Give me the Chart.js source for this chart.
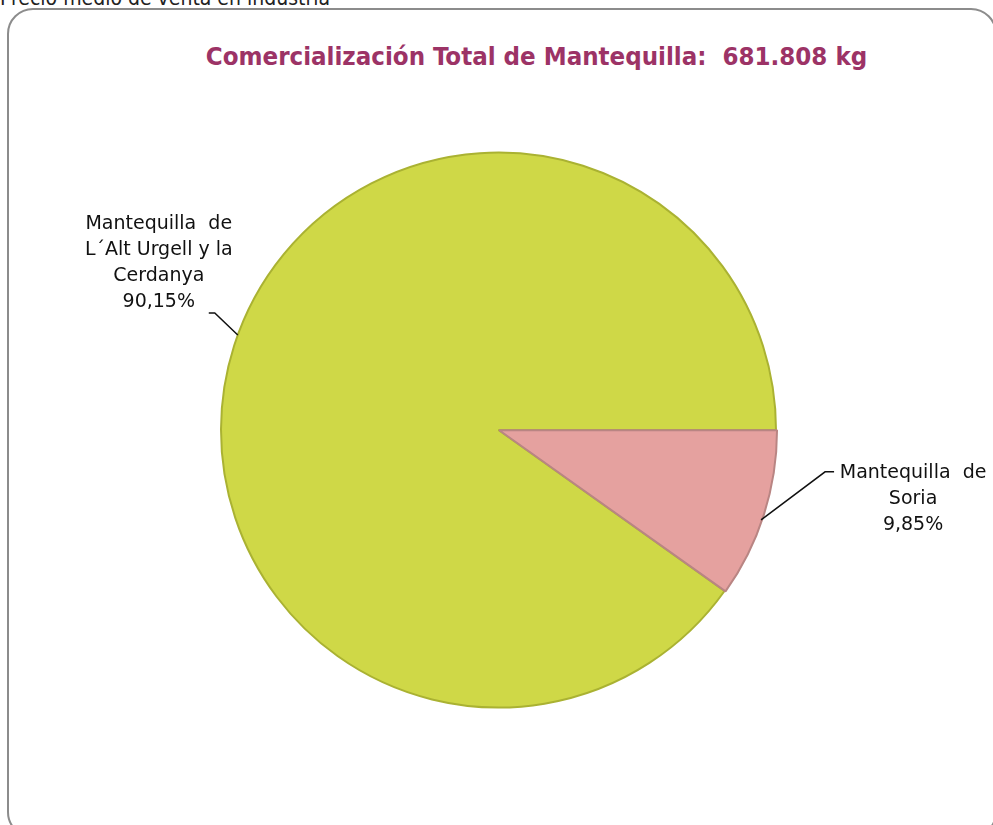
<!DOCTYPE html>
<html>
<head>
<meta charset="utf-8">
<script src="https://cdn.jsdelivr.net/npm/chart.js@4.4.1/dist/chart.umd.min.js"></script>
<style>
	html, body { margin: 0; padding: 0; background: #fff; overflow: hidden; }
	body { width: 993px; height: 825px; position: relative; font-family: "DejaVu Sans Condensed", "DejaVu Sans", sans-serif; }
	.caption { position: absolute; left: 0; top: -14px; font-size: 21px; color: #222; white-space: nowrap; }
	.frame { position: absolute; left: 7px; top: 8px; width: 990px; height: 830px; border: 2px solid #8c8c8c; border-radius: 26px; box-sizing: border-box; }
	.title { position: absolute; left: 0; top: 41px; width: 1073px; text-align: center; font-weight: bold; font-size: 25.6px; color: #9c3366; white-space: nowrap; }
	#wrap { position: absolute; left: 0; top: 0; width: 993px; height: 825px; }
</style>
</head>
<body>
<div class="caption">Precio medio de venta en industria</div>
<div class="frame"></div>
<div class="title">Comercialización Total de Mantequilla:&nbsp; 681.808 kg</div>
<div id="wrap"><canvas id="chart"></canvas></div>
<script>
// data
const categories = ["Mantequilla de L´Alt Urgell y la Cerdanya", "Mantequilla de Soria"];
const shares = [90.15, 9.85];
const labelLines = [
	["Mantequilla  de", "L´Alt Urgell y la", "Cerdanya"],
	["Mantequilla  de", "Soria"]
];
const sliceColors = ["#cfd847", "#e5a19f"];
const sliceBorders = ["#aab232", "#b98583"];

// start of the first slice so the small one sits just below 3 o'clock
const total = shares.reduce((a, b) => a + b, 0);
const startRotation = 90 + 360 * shares[1] / total;

const fmt = v => v.toFixed(2).replace(".", ",") + "%";

// outside labels with leader lines
const outLabels = {
	id: "outLabels",
	afterDatasetsDraw(chart) {
		const ctx = chart.ctx;
		const meta = chart.getDatasetMeta(0);
		ctx.save();
		ctx.font = "19px 'DejaVu Sans', sans-serif";
		ctx.fillStyle = "#111";
		ctx.strokeStyle = "#111";
		ctx.lineWidth = 1.5;
		ctx.textAlign = "center";
		ctx.textBaseline = "middle";
		meta.data.forEach((arc, i) => {
			const p = arc.getProps(["x", "y", "startAngle", "endAngle", "outerRadius"], true);
			const mid = (p.startAngle + p.endAngle) / 2;
			const lines = labelLines[i].concat([fmt(shares[i])]);
			const lh = 26;
			if (Math.cos(mid) < 0) {
				const a = mid + 0.04;
				const px = p.x + Math.cos(a) * p.outerRadius;
				const py = p.y + Math.sin(a) * p.outerRadius;
				const ex = px - 23, ey = py - 22, hx = ex - 6;
				ctx.beginPath();
				ctx.moveTo(px, py); ctx.lineTo(ex, ey); ctx.lineTo(hx, ey);
				ctx.stroke();
				const cx = hx - 50;
				lines.forEach((t, k) => ctx.fillText(t, cx, ey - 11 - (lines.length - 1 - k) * lh));
			} else {
				const a = mid + 0.02;
				const px = p.x + Math.cos(a) * p.outerRadius;
				const py = p.y + Math.sin(a) * p.outerRadius;
				const ex = px + 64, ey = py - 48, hx = ex + 9;
				ctx.beginPath();
				ctx.moveTo(px, py); ctx.lineTo(ex, ey); ctx.lineTo(hx, ey);
				ctx.stroke();
				const cx = hx + 79;
				lines.forEach((t, k) => ctx.fillText(t, cx, ey + 1 + k * lh));
			}
		});
		ctx.restore();
	}
};

new Chart(document.getElementById("chart"), {
	type: "pie",
	data: {
		labels: categories,
		datasets: [{
			data: shares,
			backgroundColor: sliceColors,
			borderColor: sliceBorders,
			borderWidth: 2,
			offset: [0, 3]
		}]
	},
	options: {
		responsive: true,
		maintainAspectRatio: false,
		animation: false,
		rotation: startRotation,
		layout: { padding: { top: 150, bottom: 115, left: 120, right: 116 } },
		plugins: {
			legend: { display: false },
			title: { display: false },
			tooltip: { enabled: false }
		}
	},
	plugins: [outLabels]
});
</script>
</body>
</html>
